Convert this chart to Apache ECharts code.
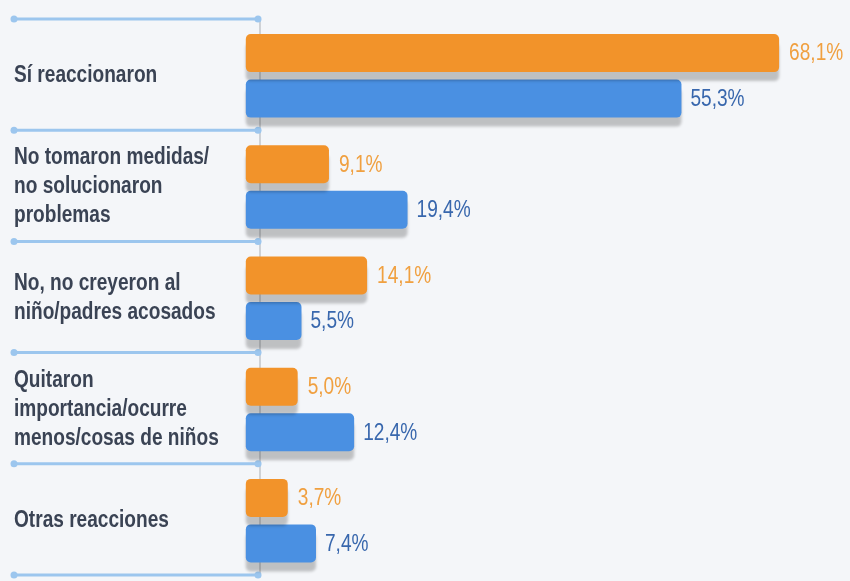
<!DOCTYPE html>
<html>
<head>
<meta charset="utf-8">
<script src="https://cdn.jsdelivr.net/npm/echarts@6/dist/echarts.min.js"></script>
<style>
html,body{margin:0;padding:0;background:#f4f6f9;}
#c{width:850px;height:581px;}
</style>
</head>
<body>
<div id="c"></div>
<script>
const categories = [
  'Sí reaccionaron',
  'No tomaron medidas/\nno solucionaron\nproblemas',
  'No, no creyeron al\nniño/padres acosados',
  'Quitaron\nimportancia/ocurre\nmenos/cosas de niños',
  'Otras reacciones'
];
const seriesOrange = [68.1, 9.1, 14.1, 5.0, 3.7];
const seriesBlue = [55.3, 19.4, 5.5, 12.4, 7.4];

const BAR_START = -1.8;
const BAR_H = 38;
const NARROW = 0.83;
const FONT = '"Liberation Sans", Arial, sans-serif';

function fmt(v){ return v.toFixed(1).replace('.', ',') + '%'; }

function barRenderer(offset, fill, textColor, gap){
  return function(params, api){
    const v = api.value(0), cat = api.value(1);
    const s = api.coord([BAR_START, cat]);
    const e = api.coord([v, cat]);
    const cy = s[1] + offset;
    return {
      type: 'group',
      children: [
        {
          type: 'rect',
          shape: {x: s[0], y: cy - BAR_H/2, width: e[0]-s[0], height: BAR_H, r: 5},
          style: {fill: fill, shadowBlur: 3, shadowOffsetY: 9, shadowOffsetX: 0, shadowColor: 'rgba(0,0,0,0.22)'}
        },
        {
          type: 'text',
          x: e[0] + gap, y: cy + 1, scaleX: NARROW,
          style: {text: fmt(v), x: 0, y: 0, fill: textColor, fontFamily: FONT, fontSize: 23,
                  verticalAlign: 'middle', align: 'left'}
        }
      ]
    };
  };
}

function sepRenderer(params, api){
  const cat = api.value(1);
  const c = api.coord([0, cat]);
  const h = api.size([0, 1])[1];
  const ys = [c[1] - h/2];
  if (cat === categories.length - 1) ys.push(c[1] + h/2);
  const x0 = 14, x1 = c[0] - 1.5;
  const children = [];
  ys.forEach(function(y){
    children.push({type:'line', shape:{x1:x0, y1:y, x2:x1, y2:y}, style:{stroke:'#9cc6ee', lineWidth:3}});
    children.push({type:'circle', shape:{cx:x0, cy:y, r:3.5}, style:{fill:'#9cc6ee'}});
    children.push({type:'circle', shape:{cx:x1, cy:y, r:3.5}, style:{fill:'#9cc6ee'}});
  });
  children.push({
    type: 'text', x: 14, y: c[1] + 1, scaleX: NARROW,
    style: {text: categories[cat], x: 0, y: 0, fill: '#3a4354', fontFamily: FONT, fontWeight: 'bold',
            fontSize: 23, lineHeight: 29, verticalAlign: 'middle', align: 'left'}
  });
  return {type:'group', children: children};
}

const chart = echarts.init(document.getElementById('c'));
chart.setOption({
  backgroundColor: '#f4f6f9',
  animation: false,
  grid: {left: 245.8, right: 10.6, top: 19, bottom: 6, containLabel: false},
  xAxis: {
    type: 'value', min: -1.8, max: 76,
    show: false
  },
  yAxis: {
    type: 'category', inverse: true, data: categories,
    axisLine: {show: true, onZero: true, lineStyle: {color: '#cfd2d6', width: 2}},
    axisTick: {show: false},
    splitLine: {show: false},
    axisLabel: {show: false}
  },
  series: [
    {type:'custom', name:'sep', renderItem: sepRenderer, clip:false, z:1,
     data: categories.map(function(c,i){ return [0, i]; }), encode:{x:0, y:1}, silent:true},
    {type:'custom', name:'Naranja', renderItem: barRenderer(-21.5, '#f2932a', '#f0a040', 10), clip:false, z:3,
     data: seriesOrange.map(function(v,i){ return [v, i]; }), encode:{x:0, y:1}},
    {type:'custom', name:'Azul', renderItem: barRenderer(24, '#4a90e2', '#3867ad', 9), clip:false, z:2,
     data: seriesBlue.map(function(v,i){ return [v, i]; }), encode:{x:0, y:1}}
  ]
});
</script>
</body>
</html>
